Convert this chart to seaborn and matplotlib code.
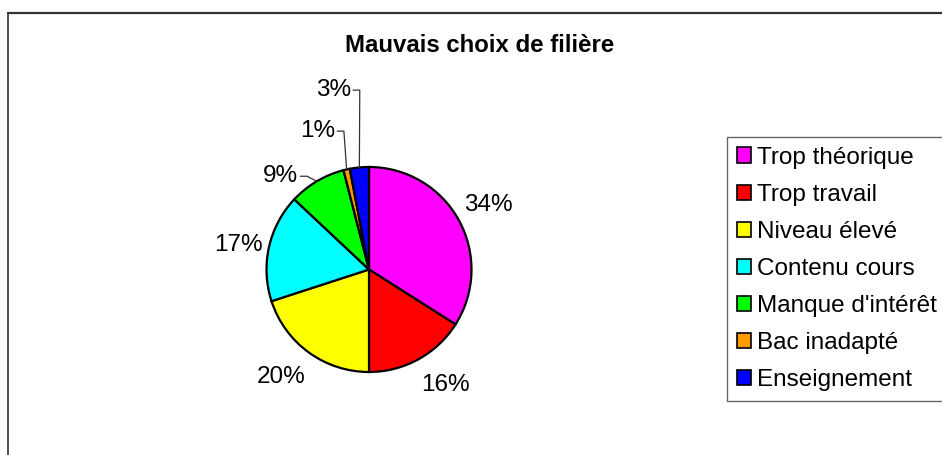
import numpy as np
import matplotlib
matplotlib.use("Agg")
import matplotlib.pyplot as plt
import seaborn as sns
from matplotlib.patches import Patch

categories = ["Trop théorique", "Trop travail", "Niveau élevé", "Contenu cours",
              "Manque d'intérêt", "Bac inadapté", "Enseignement"]
values = [34, 16, 20, 17, 9, 1, 3]
colors = ["#FF00FF", "#FF0000", "#FFFF00", "#00FFFF", "#00FF00", "#FF9900", "#0000FF"]
title = "Mauvais choix de filière"

sns.set_style("white")
plt.rcParams["font.family"] = ["Liberation Sans", "DejaVu Sans"]
plt.rcParams["text.color"] = "black"

W, H = 942, 455
fig = plt.figure(figsize=(W / 100, H / 100), dpi=100)

# pie axes: centre (369, 269.5) px, radius 102.5 px
cx, cy, R = 369, 269.5, 102.5
ax = fig.add_axes([(cx - R) / W, 1 - (cy + R) / H, 2 * R / W, 2 * R / H])
palette = sns.color_palette(colors)
wedges, _ = ax.pie(values, colors=palette, startangle=90, counterclock=False,
                   wedgeprops=dict(edgecolor="black", linewidth=1.6))
ax.set_xlim(-1, 1)
ax.set_ylim(-1, 1)
ax.set_aspect("equal")
ax.axis("off")

fs = 17.5
# small slices get a leader line: label right end (data units, relative to radius)
small = {4: (-0.69, 0.91), 5: (-0.33, 1.35), 6: (-0.175, 1.75)}
for i, w in enumerate(wedges):
    theta = np.deg2rad((w.theta1 + w.theta2) / 2)
    c, s = np.cos(theta), np.sin(theta)
    txt = f"{values[i]}%"
    if i in small:
        lx, ly = small[i]
        ax.text(lx, ly, txt, ha="right", va="center", fontsize=fs, clip_on=False)
        kx = lx + 0.085
        ax.plot([lx + 0.02, kx, c], [ly, ly, s], color="#333333", lw=0.9,
                clip_on=False)
    else:
        ha = "left" if c > 0.3 else ("right" if c < -0.3 else "center")
        va = "bottom" if s > 0.3 else ("top" if s < -0.3 else "center")
        ry = 1.09 if s > 0 else 1.16
        ax.text(1.06 * c, ry * s, txt, ha=ha, va=va, fontsize=fs, clip_on=False)

fig.text(480 / W, 1 - 45 / H, title, ha="center", va="center",
         fontsize=17.3, fontweight="bold")

handles = [Patch(facecolor=col, edgecolor="black", linewidth=1.2) for col in colors]
leg = fig.legend(handles, categories, loc="upper left",
                 bbox_to_anchor=(727 / W, 1 - 137 / H), borderaxespad=0,
                 fontsize=fs, frameon=True, fancybox=False, edgecolor="#404040",
                 handlelength=0.6, handleheight=0.6, handletextpad=0.25,
                 labelspacing=0.62, borderpad=0.4)
leg.get_frame().set_linewidth(1.0)

# outer chart border (top and left visible)
fig.add_artist(plt.Line2D([8 / W, 1.0], [1 - 13 / H, 1 - 13 / H],
                          transform=fig.transFigure, color="#333333", lw=1.6))
fig.add_artist(plt.Line2D([8 / W, 8 / W], [1 - 13 / H, 0],
                          transform=fig.transFigure, color="#333333", lw=1.2))

fig.savefig("out.png", dpi=100)
